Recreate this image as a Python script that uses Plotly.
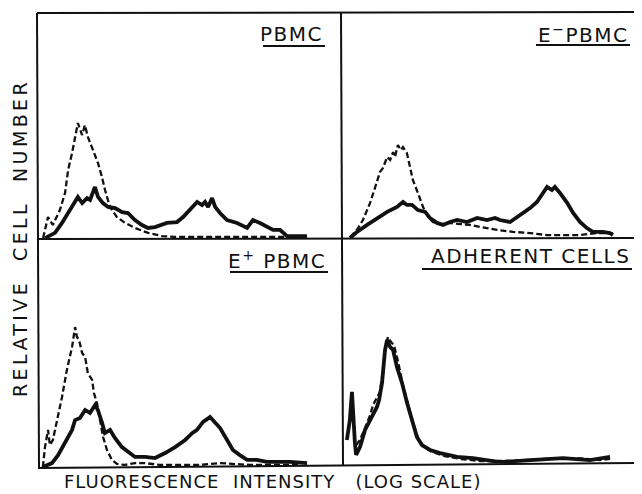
import plotly.graph_objects as go

# page is 642x494; the figure sits inside the page's default 8px body margin
PAGE_W, PAGE_H = 642, 494
OFF = 8
W, H = PAGE_W - OFF, PAGE_H - OFF

# ---------------- data (channel 0-100 across each panel, relative count 0-100) -------------
pbmc_dash_x = [2.0, 3.6, 5.2, 7.5, 9.2, 10.2, 11.5, 13.1, 13.4, 14.8, 15.7, 16.7, 18.4, 20.0, 21.3,
               22.3, 23.9, 26.2, 28.9, 32.1, 36.4, 41.0, 45.2, 53.4, 69.8, 88.5]
pbmc_dash_y = [0.4, 9.7, 6.2, 12.8, 20.4, 30.5, 38.1, 48.2, 51.3, 46.0, 50.4, 45.1, 39.4, 33.6, 27.4,
               21.7, 14.2, 9.7, 7.1, 4.9, 2.7, 1.3, 0.9, 0.9, 0.9, 0.9]
pbmc_solid_x = [2.6, 4.3, 5.9, 8.2, 10.2, 12.5, 13.4, 14.8, 16.4, 17.4, 19.0, 20.0, 21.6, 23.3, 25.6,
                27.9, 29.8, 32.1, 34.4, 36.4, 38.7, 42.6, 45.9, 47.9, 50.2, 52.5, 54.1, 55.1, 56.1,
                57.4, 58.4, 60.0, 62.3, 65.6, 68.9, 70.8, 73.1, 75.4, 77.4, 79.7, 80.7, 82.0, 86.2, 88.5]
pbmc_solid_y = [0.4, 1.8, 2.7, 7.1, 11.5, 17.3, 18.6, 15.9, 18.1, 17.3, 23.0, 18.6, 15.9, 14.2, 13.7,
                11.9, 11.5, 8.4, 6.2, 4.9, 5.3, 7.1, 7.5, 9.7, 12.8, 16.4, 15.0, 16.4, 14.2,
                18.1, 14.2, 11.5, 8.4, 7.1, 4.9, 8.4, 7.1, 5.3, 4.0, 4.0, 2.7, 1.3, 1.3, 1.3]

eneg_dash_x = [2.7, 5.0, 7.0, 9.4, 11.0, 12.7, 13.7, 15.1, 16.1, 17.1, 17.7, 18.7, 19.7, 20.4, 21.7,
               22.7, 23.7, 25.4, 27.1, 28.8, 30.4, 32.8, 36.1, 39.5, 42.8, 46.2, 51.8, 57.2, 62.9,
               68.6, 79.6, 85.3, 90.6]
eneg_dash_y = [0.4, 3.6, 8.0, 15.6, 22.2, 29.3, 31.1, 36.0, 34.7, 38.2, 36.0, 41.3, 39.1, 40.4, 37.8,
               31.6, 25.8, 20.0, 13.8, 9.3, 7.1, 6.2, 6.7, 6.2, 5.8, 4.9, 3.6, 2.7, 2.2,
               1.3, 1.3, 2.2, 2.2]
eneg_solid_x = [2.7, 5.0, 8.4, 11.7, 15.1, 18.4, 20.4, 21.7, 23.4, 25.4, 27.8, 29.4, 31.8, 33.8, 36.1,
                38.5, 41.8, 45.2, 48.5, 51.2, 52.8, 56.2, 59.5, 62.9, 65.2, 67.2, 68.6, 70.2, 71.2,
                72.9, 75.3, 77.3, 79.6, 81.9, 83.9, 87.3, 89.6, 90.6]
eneg_solid_y = [0.0, 2.7, 5.8, 8.9, 11.6, 13.8, 16.0, 14.7, 14.7, 12.4, 11.6, 8.9, 6.7, 5.8, 7.1,
                8.0, 7.1, 8.9, 8.0, 8.9, 8.0, 7.1, 10.2, 13.3, 16.0, 20.0, 22.7, 21.3, 22.7,
                20.0, 15.6, 11.1, 7.1, 4.4, 2.7, 2.7, 2.2, 1.3]

epos_dash_x = [1.6, 2.3, 3.3, 3.9, 4.9, 6.3, 7.9, 9.5, 11.2, 12.2, 12.8, 13.5, 14.5, 15.5, 16.4,
               17.8, 18.4, 19.4, 20.4, 21.4, 22.7, 24.3, 26.0, 28.6, 31.9, 35.2, 40.1, 53.3, 59.9,
               69.7, 86.2]
epos_dash_y = [0.0, 8.7, 16.2, 9.6, 11.8, 20.5, 30.6, 42.4, 52.4, 61.1, 56.8, 55.5, 49.8, 48.0, 41.0,
               38.0, 32.3, 27.9, 20.5, 13.1, 7.4, 3.1, 1.3, 0.9, 1.7, 1.7, 0.9, 0.9, 1.7,
               0.9, 0.9]
epos_solid_x = [1.6, 4.6, 6.6, 8.9, 11.2, 12.2, 13.8, 15.5, 17.1, 18.8, 19.7, 21.1, 22.0, 23.7, 25.3,
                27.6, 29.6, 31.9, 35.2, 38.5, 41.8, 45.1, 48.4, 50.7, 52.3, 54.3, 56.6, 58.2, 59.9,
                62.2, 64.1, 66.4, 68.8, 72.0, 75.3, 79.6, 82.9, 88.5]
epos_solid_y = [0.0, 1.7, 5.2, 10.5, 16.2, 20.5, 21.4, 24.9, 23.6, 27.1, 24.9, 19.2, 14.8, 16.2, 12.7,
                8.7, 6.6, 4.4, 4.4, 3.9, 6.1, 8.7, 11.8, 14.8, 16.2, 19.7, 21.8, 19.7, 17.0,
                11.8, 7.4, 5.2, 3.1, 3.1, 2.2, 2.2, 2.2, 1.7]

adh_dash_x = [4.4, 5.7, 7.4, 9.1, 10.1, 11.4, 12.4, 13.4, 14.4, 15.1, 16.1, 17.1, 18.5, 20.1, 21.8,
              23.5, 25.2, 27.2, 29.9, 34.2, 39.3, 46.0, 56.0, 67.8, 77.9, 86.2, 89.6]
adh_dash_y = [8.0, 10.2, 15.6, 21.3, 25.8, 28.9, 31.6, 41.3, 52.4, 56.0, 53.8, 52.4, 44.9, 34.7, 25.8,
              17.8, 11.1, 7.1, 4.9, 3.1, 1.8, 0.9, 0.9, 1.8, 2.2, 1.3, 1.8]
adh_solid_x = [1.3, 2.3, 3.0, 3.4, 4.0, 4.4, 5.7, 7.4, 9.1, 10.1, 11.4, 12.1, 13.1, 14.1, 14.8,
               15.8, 16.8, 18.1, 19.8, 21.5, 23.2, 24.8, 26.5, 29.2, 32.6, 38.3, 43.6, 49.3, 52.7,
               62.8, 73.8, 82.9, 89.6]
adh_solid_y = [10.2, 19.1, 31.6, 20.4, 8.9, 3.6, 7.1, 14.7, 19.1, 22.2, 24.9, 28.0, 35.6, 50.2, 54.7,
               51.6, 50.2, 42.7, 35.6, 26.7, 19.1, 11.6, 8.0, 5.8, 4.4, 2.7, 2.2, 1.3, 0.4,
               1.3, 2.2, 1.3, 2.7]

panel_titles = ["PBMC", "E<sup>\u2212</sup>PBMC", "E<sup>+</sup> PBMC", "ADHERENT CELLS"]
x_title = "FLUORESCENCE\u00a0 INTENSITY\u00a0\u00a0 (LOG SCALE)"
y_title = "RELATIVE\u00a0 CELL\u00a0 NUMBER"

# ---------------- layout geometry (page pixels -> paper fractions) ----------------
def fx(px):
    return (px - OFF) / W

def fy(py):
    return 1 - (py - OFF) / H

# panel: (left px, right px, baseline px, top px)
panels = [
    (37, 342, 239, 13),
    (342, 641, 238, 13),
    (38, 342, 467, 238),
    (343, 641, 463, 238),
]
series = [
    (pbmc_dash_x, pbmc_dash_y, pbmc_solid_x, pbmc_solid_y),
    (eneg_dash_x, eneg_dash_y, eneg_solid_x, eneg_solid_y),
    (epos_dash_x, epos_dash_y, epos_solid_x, epos_solid_y),
    (adh_dash_x, adh_dash_y, adh_solid_x, adh_solid_y),
]

INK = "#111111"
fig = go.Figure()
layout = dict(
    width=W, height=H,
    margin=dict(l=0, r=0, t=0, b=0),
    paper_bgcolor="white", plot_bgcolor="rgba(0,0,0,0)",
    showlegend=False,
    font=dict(family="DejaVu Sans", color=INK),
)

for i, ((l, r, base, top), (dx, dy, sx, sy)) in enumerate(zip(panels, series)):
    n = "" if i == 0 else str(i + 1)
    layout["xaxis" + n] = dict(domain=[fx(l), fx(r)], range=[0, 100], visible=False,
                               anchor="y" + n, fixedrange=True)
    layout["yaxis" + n] = dict(domain=[fy(base), fy(top)], range=[0, 100], visible=False,
                               anchor="x" + n, fixedrange=True)
    fig.add_trace(go.Scatter(x=dx, y=dy, mode="lines", xaxis="x" + n, yaxis="y" + n,
                             line=dict(color=INK, width=2.3, dash="6px,3px")))
    fig.add_trace(go.Scatter(x=sx, y=sy, mode="lines", xaxis="x" + n, yaxis="y" + n,
                             line=dict(color=INK, width=3.8)))

fig.update_layout(**layout)

# frame lines
frame = [
    ((37, 13), (39, 468)),     # left
    ((37, 13), (642, 12)),     # top
    ((341, 13), (343, 466)),   # middle vertical
    ((37, 239), (642, 238)),   # middle horizontal
    ((38, 468), (642, 463)),   # bottom
]
shapes = []
for (x0, y0), (x1, y1) in frame:
    shapes.append(dict(type="line", xref="paper", yref="paper",
                       x0=fx(x0), y0=fy(y0), x1=fx(x1), y1=fy(y1),
                       line=dict(color=INK, width=2)))

# titles with underlines
title_pos = [(325, 34, 263, 46), (630, 34, 536, 45), (328, 260, 230, 272), (632, 256, 422, 269)]
annotations = []
for t, (xr, yc, ul, uy) in zip(panel_titles, title_pos):
    annotations.append(dict(text='<span style="letter-spacing:1.5px">' + t + '</span>',
                            xref="paper", yref="paper", x=fx(xr), y=fy(yc),
                            xanchor="right", yanchor="middle", showarrow=False,
                            font=dict(size=20, family="DejaVu Sans", color=INK)))
    shapes.append(dict(type="line", xref="paper", yref="paper",
                       x0=fx(ul), y0=fy(uy), x1=fx(xr), y1=fy(uy),
                       line=dict(color=INK, width=2)))

annotations.append(dict(text='<span style="letter-spacing:1px">' + x_title + '</span>',
                        xref="paper", yref="paper", x=fx(272), y=fy(481),
                        xanchor="center", yanchor="middle", showarrow=False,
                        font=dict(size=18, family="DejaVu Sans", color=INK)))
annotations.append(dict(text='<span style="letter-spacing:3.4px">' + y_title + '</span>',
                        xref="paper", yref="paper", x=fx(20), y=fy(238),
                        xanchor="center", yanchor="middle", showarrow=False, textangle=-90,
                        font=dict(size=19, family="DejaVu Sans", color=INK)))

fig.update_layout(shapes=shapes, annotations=annotations)
fig.write_html("out.html")
